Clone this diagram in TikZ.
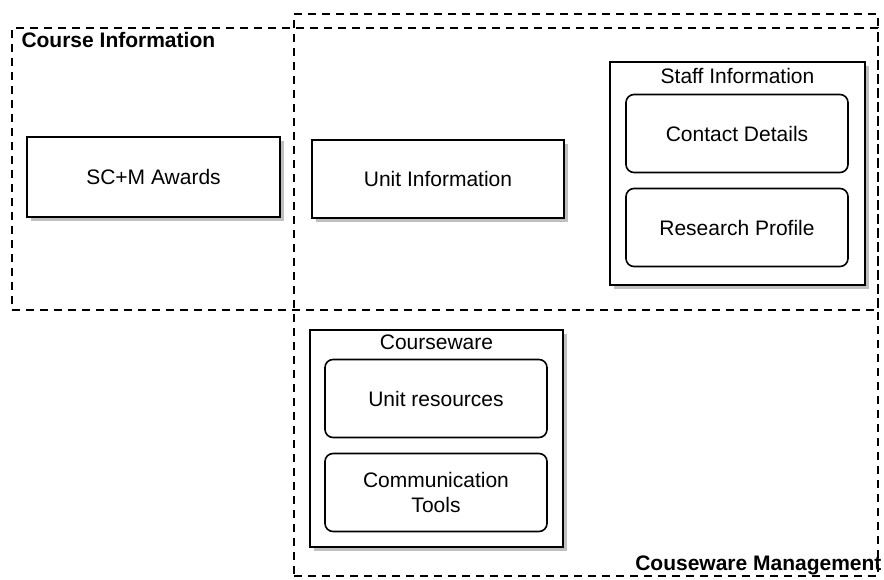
\documentclass[tikz,border=0pt]{standalone}
\usepackage{fontspec}
\setmainfont{Liberation Sans}
\usetikzlibrary{shadows}

\begin{document}
\begin{tikzpicture}
[x=0.5pt,y=-0.5pt,every node/.style={font=\fontsize{10.5}{12.5}\selectfont},
region/.style={draw,line width=0.9pt,dash pattern=on 4pt off 3pt,inner sep=0pt},
regionlabel/.style={font=\fontsize{10.5}{12.5}\selectfont\bfseries,inner sep=0pt},
outerbox/.style={draw,line width=1pt,fill=white,inner sep=0pt,drop shadow={shadow xshift=2pt,shadow yshift=-2pt,fill=gray!50,opacity=1}},
innerbox/.style={draw,line width=0.8pt,rounded corners=4pt,fill=white,minimum width=111pt,minimum height=39pt,inner sep=0pt,align=center}]
\useasboundingbox (0,0) rectangle (884,579);
\node[region,minimum width=433pt,minimum height=141pt,label={[regionlabel,anchor=north west,xshift=5pt,yshift=-2.5pt]north west:Course Information}] (courseinfo) at (445,169) {};
\node[region,minimum width=292pt,minimum height=281pt,label={[regionlabel,anchor=south east,xshift=1.5pt,yshift=1pt]south east:Couseware Management}] (cwmanage) at (586,295) {};
\node[outerbox,minimum width=126.5pt,minimum height=40pt] (awards) at (153.5,177) {SC+M Awards};
\node[outerbox,minimum width=126pt,minimum height=39pt] (unitinfo) at (438,179) {Unit Information};
\node[outerbox,minimum width=127.5pt,minimum height=111.5pt,label={[anchor=center,yshift=-7.5pt]north:Staff Information}] (staff) at (737.5,173.5) {};
\node[innerbox] (contact) at (737,133.5) {Contact Details};
\node[innerbox] (research) at (737,227.5) {Research Profile};
\node[outerbox,minimum width=126.5pt,minimum height=108.5pt,label={[anchor=center,yshift=-6.5pt]north:Courseware}] (courseware) at (436.5,438.5) {};
\node[innerbox] (unitres) at (436,398.5) {Unit resources};
\node[innerbox] (commtools) at (436,492.5) {Communication\\Tools};
\end{tikzpicture}
\end{document}
